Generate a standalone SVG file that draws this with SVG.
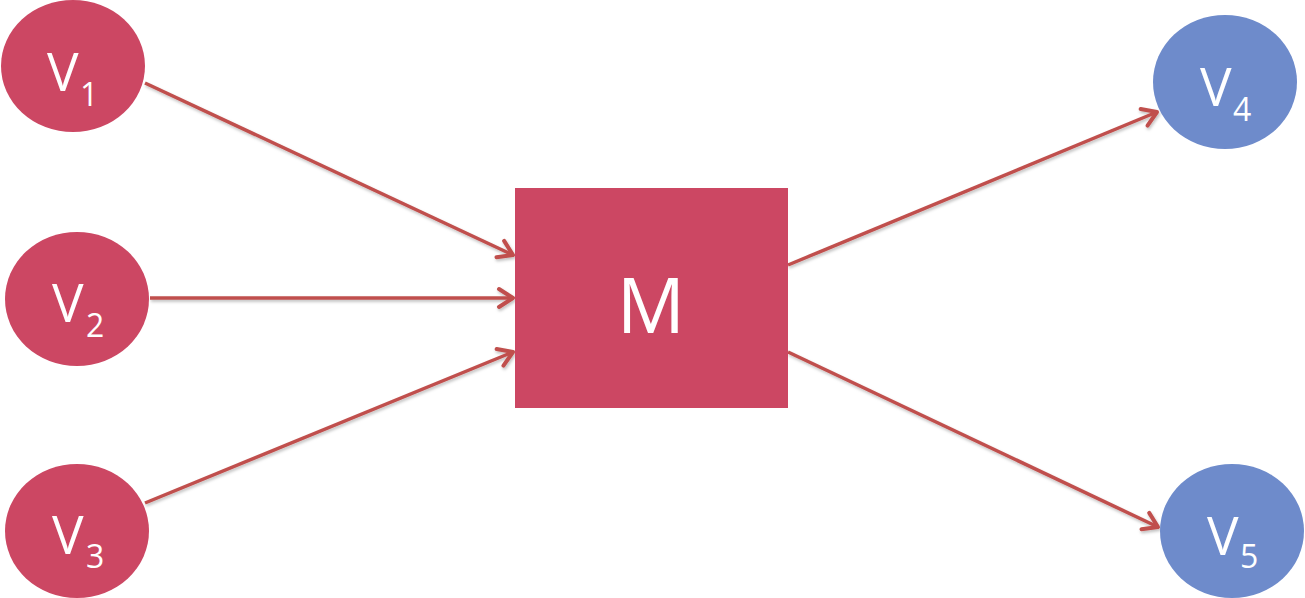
<svg xmlns="http://www.w3.org/2000/svg" width="1305" height="598" viewBox="0 0 1305 598">
<style>
.red{fill:#CC4763}
.blue{fill:#6E8BCB}
.lbl{font-family:"Open Sans","Noto Sans","Liberation Sans",sans-serif;fill:#fff}
.v{font-size:53px}
.s{font-size:32px}
.m{font-size:76px}
.con{stroke:#C0504D;stroke-width:3.5;fill:none;marker-end:url(#ah)}
</style>
<defs>
<marker id="ah" markerUnits="userSpaceOnUse" markerWidth="26" markerHeight="26" refX="19" refY="13" orient="auto">
<path d="M5,4 L19,13 L5,22" fill="none" stroke="#C0504D" stroke-width="4" stroke-linecap="round" stroke-linejoin="round"/>
</marker>
<filter id="sh" filterUnits="userSpaceOnUse" x="0" y="0" width="1305" height="598">
<feDropShadow dx="1" dy="2" stdDeviation="1.5" flood-color="#000" flood-opacity="0.25"/>
</filter>
</defs>
<g id="connectors" filter="url(#sh)">
<line class="con" x1="145" y1="83" x2="513" y2="255"/>
<line class="con" x1="150" y1="298" x2="513" y2="298"/>
<line class="con" x1="145" y1="503" x2="513" y2="352"/>
<line class="con" x1="788" y1="265" x2="1157" y2="112"/>
<line class="con" x1="788" y1="352" x2="1158" y2="527"/>
</g>
<g id="V1"><ellipse class="red" cx="73" cy="66" rx="72" ry="66"/><text class="lbl v" x="47" y="91">V</text><text class="lbl s" x="80" y="106">1</text></g>
<g id="V2"><ellipse class="red" cx="77" cy="299" rx="72" ry="67"/><text class="lbl v" x="52" y="322">V</text><text class="lbl s" x="86" y="337">2</text></g>
<g id="V3"><ellipse class="red" cx="77" cy="531" rx="72" ry="67"/><text class="lbl v" x="52" y="554">V</text><text class="lbl s" x="86" y="568">3</text></g>
<g id="M"><rect class="red" x="515" y="188" width="273" height="220"/><text class="lbl m" x="651" y="333" text-anchor="middle">M</text></g>
<g id="V4"><ellipse class="blue" cx="1225" cy="82" rx="72" ry="67"/><text class="lbl v" x="1200" y="106">V</text><text class="lbl s" x="1233" y="121">4</text></g>
<g id="V5"><ellipse class="blue" cx="1232" cy="531" rx="72" ry="67"/><text class="lbl v" x="1207" y="555">V</text><text class="lbl s" x="1240" y="568">5</text></g>
</svg>
